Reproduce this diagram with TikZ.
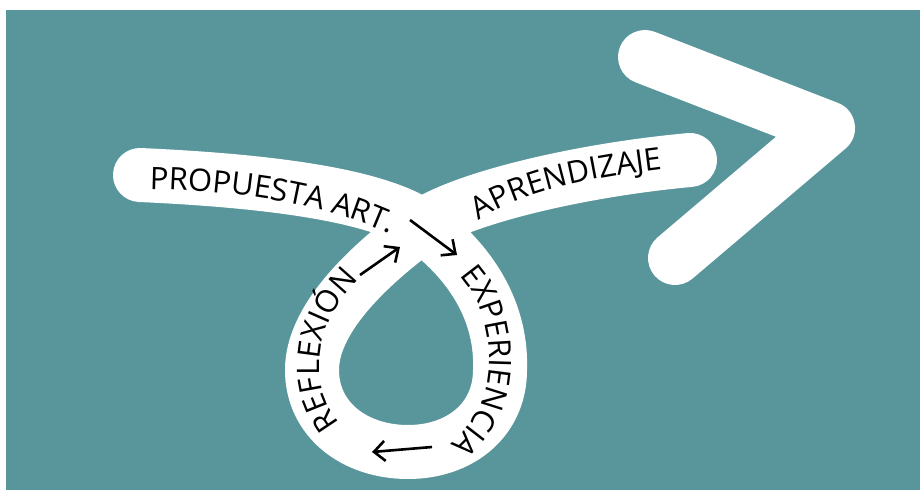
\documentclass[tikz,border=0pt]{standalone}
\usepackage{fontspec}
\usepackage{tikz}
\newfontfamily\handfont{Open Sans}
\usetikzlibrary{arrows.meta}
\usetikzlibrary{decorations.text}
\definecolor{bgteal}{RGB}{88,150,155}
\newcommand{\handsize}{\handfont\fontsize{31}{31}\selectfont}

\tikzset{
  ribbon/.style={white, line width=54pt, line cap=round, line join=round},
  handarrow/.style={black, line width=2.6pt,
    -{Straight Barb[length=11pt, width=20pt, line width=2.6pt]}},
  bandtext/.style={decorate, decoration={text along path,
    text align=center, text={|\handsize|#1}}}
}

\begin{document}
\begin{tikzpicture}[x=1pt, y=-1pt]
  \fill[white] (0,0) rectangle (920,490);
  \fill[bgteal] (6,10) rectangle (920,490);
  \useasboundingbox (0,0) rectangle (920,490);

  % big arrow head
  \coordinate (chevtop) at (645,57);
  \coordinate (chevtip) at (828,128);
  \coordinate (chevend) at (675,258);
  \draw[ribbon] (chevtop) -- (chevtip) -- (chevend);

  % the loop
  \coordinate (propend) at (140,175);
  \coordinate (cross) at (422,226);
  \coordinate (loopright) at (500,370);
  \coordinate (loopbottom) at (408,452);
  \coordinate (loopleft) at (312,370);
  \coordinate (aprend) at (690,160);
  \draw[ribbon] (propend) .. controls (250,180) and (373,192) .. (cross)
    .. controls (479,268) and (502,320) .. (loopright)
    .. controls (500,420) and (460,452) .. (loopbottom)
    .. controls (355,452) and (312,420) .. (loopleft)
    .. controls (312,320) and (365,268) .. (cross)
    .. controls (463,198) and (580,170) .. (aprend);

  % words along the band
  \path[bandtext={PROPUESTA ART.}]
    (133,189) .. controls (230,189) and (335,203) .. (405,242);
  \path[bandtext={APRENDIZAJE}]
    (465,232) .. controls (505,195) and (580,178) .. (680,167);
  \path[bandtext={EXPERIENCIA}]
    (450,266) .. controls (478,290) and (490,325) .. (489,362)
    .. controls (488,400) and (472,430) .. (440,452);
  \path[bandtext={REFLEXIÓN}]
    (352,436) .. controls (325,412) and (318,385) .. (320,360)
    .. controls (322,320) and (345,290) .. (372,268);

  % arrows
  \coordinate (toexp) at (410,220);
  \coordinate (toexpend) at (457,255);
  \coordinate (torefl) at (432,447);
  \coordinate (toreflend) at (372,452);
  \coordinate (toapr) at (360,275);
  \coordinate (toaprend) at (400,247);
  \draw[handarrow] (toexp) -- (toexpend);
  \draw[handarrow] (torefl) -- (toreflend);
  \draw[handarrow] (toapr) -- (toaprend);
\end{tikzpicture}
\end{document}
